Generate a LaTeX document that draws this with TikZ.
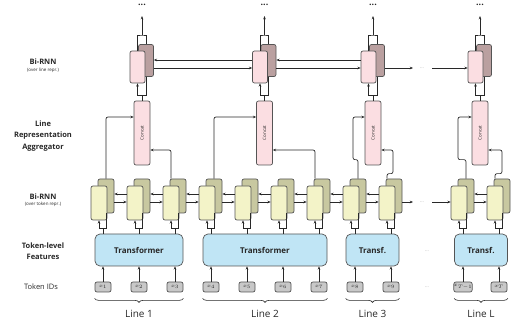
\documentclass[tikz,border=0pt]{standalone}
\usepackage{fontspec}
\usepackage{graphicx}
\setmainfont{Open Sans}
\usetikzlibrary{arrows.meta,decorations.pathreplacing}

\definecolor{linec}{RGB}{40,40,40}
\definecolor{edgec}{RGB}{85,85,85}
\definecolor{tokc}{RGB}{200,200,200}
\definecolor{transc}{RGB}{192,229,245}
\definecolor{tokfwd}{RGB}{243,243,200}
\definecolor{tokbwd}{RGB}{200,200,160}
\definecolor{linefwd}{RGB}{251,222,226}
\definecolor{linebwd}{RGB}{186,160,160}
\definecolor{faintc}{RGB}{170,170,170}

\tikzset{
  arr/.style={-{Stealth[length=3.2pt,width=2.6pt]}},
  tok/.style={draw=edgec, fill=tokc, rounded corners=2pt, minimum width=16pt, minimum height=10pt, inner sep=0pt, font=\fontsize{4.5}{5}\selectfont},
  trans/.style={draw=edgec, fill=transc, rounded corners=5pt, minimum height=32pt, inner sep=0pt, font=\fontsize{8}{9}\selectfont\bfseries},
  fwd/.style={draw=edgec, fill=tokfwd, rounded corners=2pt, minimum width=16pt, minimum height=34pt, inner sep=0pt},
  bwd/.style={fwd, fill=tokbwd},
  lfwd/.style={draw=edgec, fill=linefwd, rounded corners=2pt, minimum width=15pt, minimum height=32pt, inner sep=0pt},
  lbwd/.style={lfwd, fill=linebwd},
  cat/.style={draw=edgec, fill=linefwd, rounded corners=2pt, minimum width=16pt, minimum height=64pt, inner sep=0pt, font=\fontsize{4.5}{5}\selectfont},
  dots/.style={inner sep=1pt, font=\fontsize{9}{9}\selectfont\bfseries},
  faint/.style={inner sep=0pt, text=faintc, font=\fontsize{5}{5}\selectfont},
  side/.style={align=center, font=\fontsize{7.5}{11.5}\selectfont\bfseries},
  small/.style={font=\fontsize{4.5}{5}\selectfont},
  linelab/.style={font=\fontsize{10}{10}\selectfont}
}

\begin{document}
\begin{tikzpicture}[x=1pt, y=-1pt, line width=0.7pt, color=linec]
  \useasboundingbox (0,0) rectangle (512,331);

  % Labels on the left
  \node[side] (lrnn) at (43,62) {Bi-RNN};
  \node[small] (lrnnsub) at (43,70) {(over line repr.)};
  \node[side] (lagg) at (43,136) {Line\\Representation\\Aggregator};
  \node[side] (trnn) at (43,197) {Bi-RNN};
  \node[small] (trnnsub) at (43,204) {(over token repr.)};
  \node[side] (tfeat) at (43,251) {Token-level\\Features};
  \node[font=\fontsize{7.5}{8}\selectfont] (tids) at (41,287) {Token IDs};

  % Transformers
  \node[trans, minimum width=88pt] (tr1) at (139,250) {Transformer};
  \node[trans, minimum width=124pt] (tr2) at (265,250) {Transformer};
  \node[trans, minimum width=53pt] (tr3) at (372.5,250) {Transf.};
  \node[trans, minimum width=53pt] (trL) at (481,250) {Transf.};

  % Tokens and the token-level Bi-RNN
  \foreach \n/\x/\s/\t in {1/103/1/1, 2/139/2/1, 3/175/3/1, 4/211/4/2, 5/247/5/2, 6/283/6/2,
      7/319/7/2, 8/355/8/3, 9/391/9/3, a/463/{T-1}/L, b/499/T/L} {
    \node[tok] (x\n) at (\x,287) {$x_{\s}$};
    \node[bwd] (b\n) at (\x+3,196) {};
    \node[fwd] (f\n) at (\x-4,203) {};
    \coordinate (k\n) at (\x,228);
    \draw[arr] (x\n) -- (x\n |- tr\t.south);
    \draw (k\n |- tr\t.north) -- (k\n);
    \draw[arr] (k\n) -| (f\n.south);
    \draw (k\n) -| (b\n.south);
  }
  \foreach \i/\j in {1/2, 2/3, 3/4, 4/5, 5/6, 6/7, 7/8, 8/9, a/b} {
    \draw[arr] ([yshift=9pt]f\j.west) -- ([yshift=2pt]b\i.east);
    \draw[arr] ([yshift=-6pt]b\i.east) -- ([yshift=1pt]f\j.west);
  }

  % Line-level aggregator and Bi-RNN
  \foreach \n/\x in {1/142, 2/264.5, 3/373, L/480} {
    \node[cat] (c\n) at (\x,133) {\rotatebox{90}{Concat}};
    \node[lbwd] (lb\n) at (\x+4,60.5) {};
    \node[lfwd] (lf\n) at (\x-4.5,67) {};
    \coordinate (m\n) at (\x,95);
    \coordinate (o\n) at (\x,35);
    \node[dots] (d\n) at (\x,5) {...};
    \draw (c\n) -- (m\n);
    \draw[arr] (m\n) -| (lf\n.south);
    \draw (m\n) -| (lb\n.south);
    \draw (lf\n.north) |- (o\n) -| (lb\n.north);
    \draw[arr, shorten >=9pt] (o\n) -- (d\n);
  }
  \foreach \i/\j in {1/2, 2/3} {
    \draw[arr] ([yshift=7pt]lf\j.west) -- ([yshift=0.5pt]lb\i.east);
    \draw[arr] ([yshift=-7.5pt]lb\i.east) -- ([yshift=-1pt]lf\j.west);
  }

  % Gaps before Line L
  \coordinate (g1) at (413,68);
  \coordinate (g2) at (432,68);
  \node[faint] (e1) at (422,68) {...};
  \draw[arr] ([yshift=-7.5pt]lb3.east) -- (g1);
  \draw[arr] (g2) -- ([yshift=-1pt]lfL.west);
  \coordinate (h1) at (413,202);
  \coordinate (h2) at (432,202);
  \node[faint] (e2) at (422,202) {...};
  \draw[arr] ([yshift=-6pt]b9.east) -- (h1);
  \draw[arr] (h2) -- ([yshift=1pt]fa.west);
  \node[faint] (e3) at (427,251) {...};
  \node[faint] (e4) at (427,287) {...};

  % Inputs of the Concat boxes
  \begin{scope}[rounded corners=2pt]
    \draw[arr] (b1.north) |- ([yshift=16pt]c1.west);
    \draw[arr] (f3 |- b3.north) |- ([yshift=-17pt]c1.east);
    \draw[arr] (b4.north) |- ([yshift=16pt]c2.west);
    \draw[arr] (f7 |- b7.north) |- ([yshift=-17pt]c2.east);
    \draw[arr] (b8.north) -- ++(0,-19) -- ++(-5,0) |- ([yshift=16pt]c3.west);
    \draw[arr] (f9 |- b9.north) -- ++(0,-5) -- ++(6,0) |- ([yshift=-17pt]c3.east);
    \draw[arr] (ba.north) -- ++(0,-19) -- ++(-8,0) |- ([yshift=16pt]cL.west);
    \draw[arr] (fb |- bb.north) -- ++(0,-5) -- ++(7,0) |- ([yshift=-17pt]cL.east);
  \end{scope}

  % Braces and line names
  \foreach \t/\s in {1/1, 2/2, 3/3, L/L} {
    \draw[decorate, decoration={brace, mirror, amplitude=4pt}, line width=0.6pt]
      ([yshift=-32pt]tr\t.south west) -- ([yshift=-32pt]tr\t.south east);
    \node[linelab] (ln\t) at ([yshift=-48pt]tr\t.south) {Line \s};
  }
\end{tikzpicture}
\end{document}
